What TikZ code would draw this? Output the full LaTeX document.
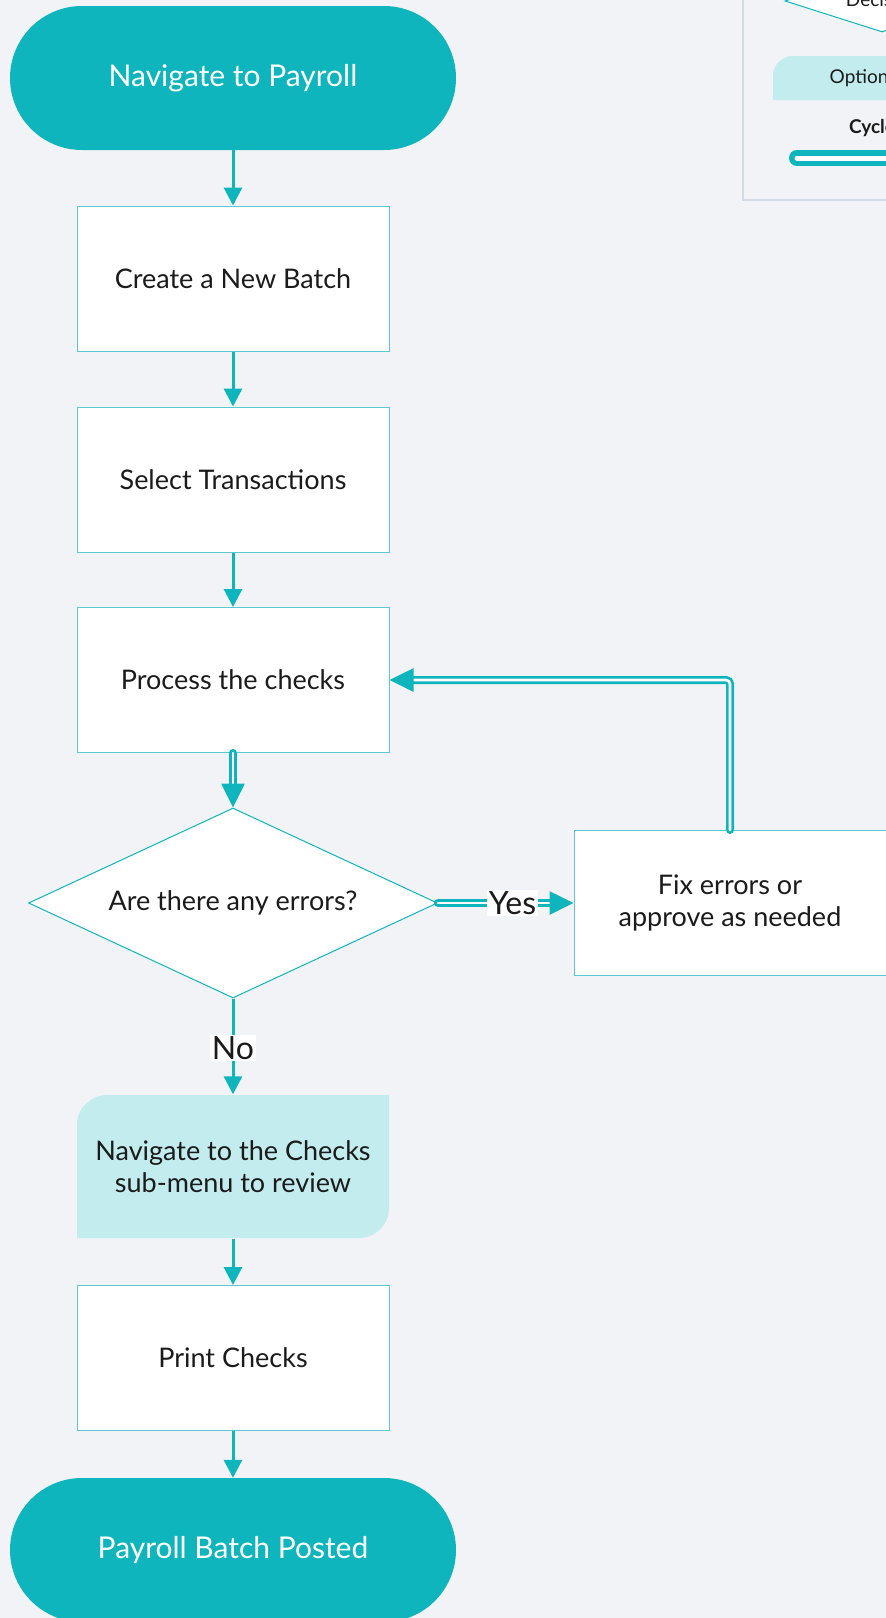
\documentclass[tikz,border=0pt]{standalone}
\usepackage{fontspec}
\setmainfont{Lato}
\usetikzlibrary{arrows.meta,shapes.geometric}
\definecolor{canvas}{HTML}{F1F3F7}
\definecolor{brand}{HTML}{0FB5BD}
\definecolor{edge}{HTML}{5CC9CF}
\definecolor{optfill}{HTML}{C2ECEE}
\definecolor{frame}{HTML}{D5DCE6}
\definecolor{ink}{HTML}{1B1B1B}
\tikzset{
  terminal/.style={rectangle, rounded corners=72pt, fill=brand, minimum width=446pt,
    minimum height=144pt, text=white, font=\fontsize{30}{35}\selectfont},
  stepbox/.style={rectangle, draw=edge, line width=1pt, fill=white, minimum width=312pt,
    minimum height=145pt, text=ink, font=\fontsize{27}{32}\selectfont, align=center},
  optbox/.style={rectangle, minimum width=312pt, minimum height=144pt, text=ink,
    font=\fontsize{27}{32}\selectfont, align=center},
  decision/.style={diamond, draw=brand, line width=1pt, fill=white, aspect=2.15,
    minimum width=409pt, minimum height=190pt, inner sep=0pt, text=ink,
    font=\fontsize{27}{32}\selectfont},
  flow/.style={draw=brand, line width=3pt, -{Triangle[length=18pt,width=18pt]}},
  dflow/.style={draw=brand, line width=2.7pt, double=white, double distance=2.6pt,
    line cap=round, -{Triangle[length=24pt,width=23pt]}},
  lbl/.style={fill=white, inner sep=1.5pt, text=ink, font=\fontsize{32}{36}\selectfont},
  legtext/.style={text=ink, font=\fontsize{19}{22}\selectfont},
}
\begin{document}
\begin{tikzpicture}[x=1pt,y=-1pt]
  \fill[canvas] (0,0) rectangle (886,1618);
  \clip (0,0) rectangle (886,1618);
  \useasboundingbox (0,0) rectangle (886,1618);

  % legend panel
  \draw[frame, line width=1.5pt, fill=canvas] (743,-30) rectangle (960,200);
  \node[diamond, draw=brand, line width=1pt, fill=white, aspect=3.1, minimum width=194pt,
        minimum height=62pt, inner sep=0pt] (legdec) at (882,1) {};
  \node[legtext] (legdectext) at (882,0) {Decision};
  \fill[optfill] (773,100) -- (773,76) arc[start angle=180,end angle=270,radius=20]
        -- (960,56) -- (960,100) -- cycle;
  \node[legtext] (legopt) at (866,78) {Optional};
  \node[legtext, font=\fontsize{19}{22}\selectfont\bfseries] (legcyc) at (872,128) {Cycle};
  \coordinate (cycA) at (797,158);
  \coordinate (cycB) at (960,158);
  \draw[draw=brand, line width=5.5pt, double=white, double distance=5pt, line cap=round]
        (cycA) -- (cycB);

  % flow nodes
  \node[terminal] (start) at (233,78) {Navigate to Payroll};
  \node[stepbox] (create) at (233,278.5) {Create a New Batch};
  \node[stepbox] (select) at (233,479.5) {Select Transactions};
  \node[stepbox] (process) at (233,680) {Process the checks};
  \node[decision] (dec) at (233,903) {Are there any errors?};
  \node[stepbox] (fix) at (730,903) {Fix errors or\\approve as needed};
  \fill[optfill] (77,1238) -- (77,1125) arc[start angle=180,end angle=270,radius=30]
        -- (389,1095) -- (389,1208) arc[start angle=0,end angle=90,radius=30] -- cycle;
  \node[optbox] (opt) at (233,1166.5) {Navigate to the Checks\\sub-menu to review};
  \node[stepbox] (print) at (233,1358) {Print Checks};
  \node[terminal] (stop) at (233,1550) {Payroll Batch Posted};

  % connectors
  \draw[flow] (start) -- (create);
  \draw[flow] (create) -- (select);
  \draw[flow] (select) -- (process);
  \draw[dflow] (process) -- (dec.north);
  \draw[dflow] (dec.east) -- node[lbl, pos=0.55] {Yes} (fix.west);
  \draw[dflow, rounded corners=4pt] (fix.north) |- (process.east);
  \draw[flow] (dec.south) -- node[lbl, pos=0.52] {No} (opt.north);
  \draw[flow] (opt) -- (print);
  \draw[flow] (print) -- (stop);
\end{tikzpicture}
\end{document}
